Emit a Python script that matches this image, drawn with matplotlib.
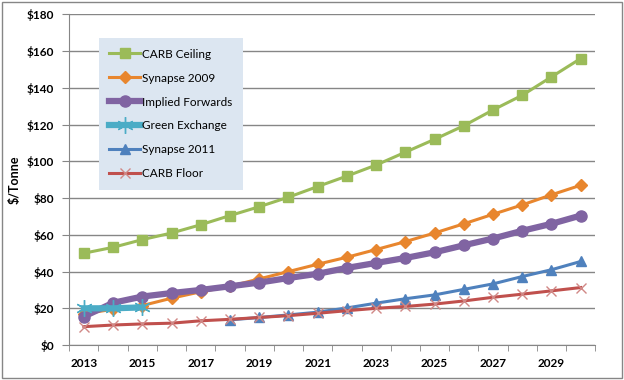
import numpy as np
import matplotlib.pyplot as plt
from matplotlib.patches import Rectangle

# years on the category axis
years = [str(y) for y in range(2013, 2031)]

carb_ceiling = [50, 53.2, 57.4, 61, 65.5, 70.5, 75.3, 80.5, 86.3, 92, 98, 105, 112, 119.4, 128, 136, 146, 156]
synapse_2009 = [17, 19.5, 21.5, 25.5, 29, 32, 36, 40, 44, 47.8, 52, 56.3, 61, 66, 71.2, 76.3, 81.8, 87]
implied_fwd = [15.5, 23, 26.4, 28.3, 30, 32, 34, 36.5, 38.8, 42, 44.7, 47.4, 50.5, 54.3, 58, 62.2, 66, 70.5]
green_exchange = [20, 20, 20.5]
synapse_2011 = [13.7, 15, 16.4, 17.9, 20.2, 22.8, 25.2, 27.3, 30.3, 33.3, 37.3, 41, 45.5]
carb_floor = [10, 10.9, 11.5, 11.9, 13.2, 14, 15, 16, 17.3, 18.7, 20, 21, 22.3, 24, 26, 27.7, 29.5, 31.3]

plt.rcParams['font.family'] = ['Lato', 'DejaVu Sans']

fig = plt.figure(figsize=(6.24, 3.80), dpi=100)
ax = fig.add_axes([0.111, 0.092, 0.843, 0.870])

x = np.arange(len(years))
ax.plot(x, carb_ceiling, color='#9BBB59', lw=2.2, marker='s', ms=7, label='CARB Ceiling', zorder=3)
ax.plot(x, synapse_2009, color='#E8862E', lw=2.2, marker='D', ms=6.5, label='Synapse 2009', zorder=3)
ax.plot(x, implied_fwd, color='#8064A2', lw=4.5, marker='o', ms=8, label='Implied Forwards', zorder=3)
ax.plot(x[:len(green_exchange)], green_exchange, color='#4BACC6', lw=4.5, marker=(6, 2, 0), ms=12,
        mew=1, label='Green Exchange', zorder=4)
ax.plot(x[len(years) - len(synapse_2011):], synapse_2011, color='#4F81BD', lw=2.2, marker='^', ms=7.5,
        label='Synapse 2011', zorder=3)
ax.plot(x, carb_floor, color='#C0504D', lw=2.2, marker='x', ms=7, mew=1, mec='#D08886',
        label='CARB Floor', zorder=3)

ax.set_xlim(-0.5, len(years) - 0.5)
ax.set_ylim(0, 180)
ax.set_yticks(range(0, 181, 20))
ax.set_yticklabels(['$%d' % v for v in range(0, 181, 20)], fontweight='bold', fontsize=8.5)
ax.set_xticks(x[::2])
ax.set_xticklabels(years[::2], fontweight='bold', fontsize=8.5)
ax.set_xticks(np.arange(-0.5, len(years)), minor=True)
ax.tick_params(axis='x', which='major', length=0, pad=9)
ax.tick_params(axis='x', which='minor', length=4, color='#868686')
ax.tick_params(axis='y', length=5, color='#868686', pad=6)

ax.grid(axis='y', color='#868686', lw=1)
ax.set_axisbelow(True)
for s in ['top', 'right']:
    ax.spines[s].set_visible(False)
ax.spines['left'].set_color('#868686')
ax.spines['bottom'].set_color('#868686')

ax.set_ylabel('$/Tonne', fontweight='bold', fontsize=9, labelpad=4)

leg = ax.legend(loc='upper left', bbox_to_anchor=(0.056, 0.929), borderaxespad=0,
                fontsize=8.5, frameon=True, fancybox=False, facecolor='#DCE6F1', edgecolor='none',
                framealpha=1, labelspacing=1.1, handlelength=2.6, handletextpad=0.15,
                borderpad=0.9)
leg.get_frame().set_linewidth(0)

fig.patches.append(Rectangle((0.003, 0.005), 0.994, 0.99, transform=fig.transFigure,
                             fill=False, edgecolor='#868686', lw=1))

fig.savefig('out.png', dpi=100)
